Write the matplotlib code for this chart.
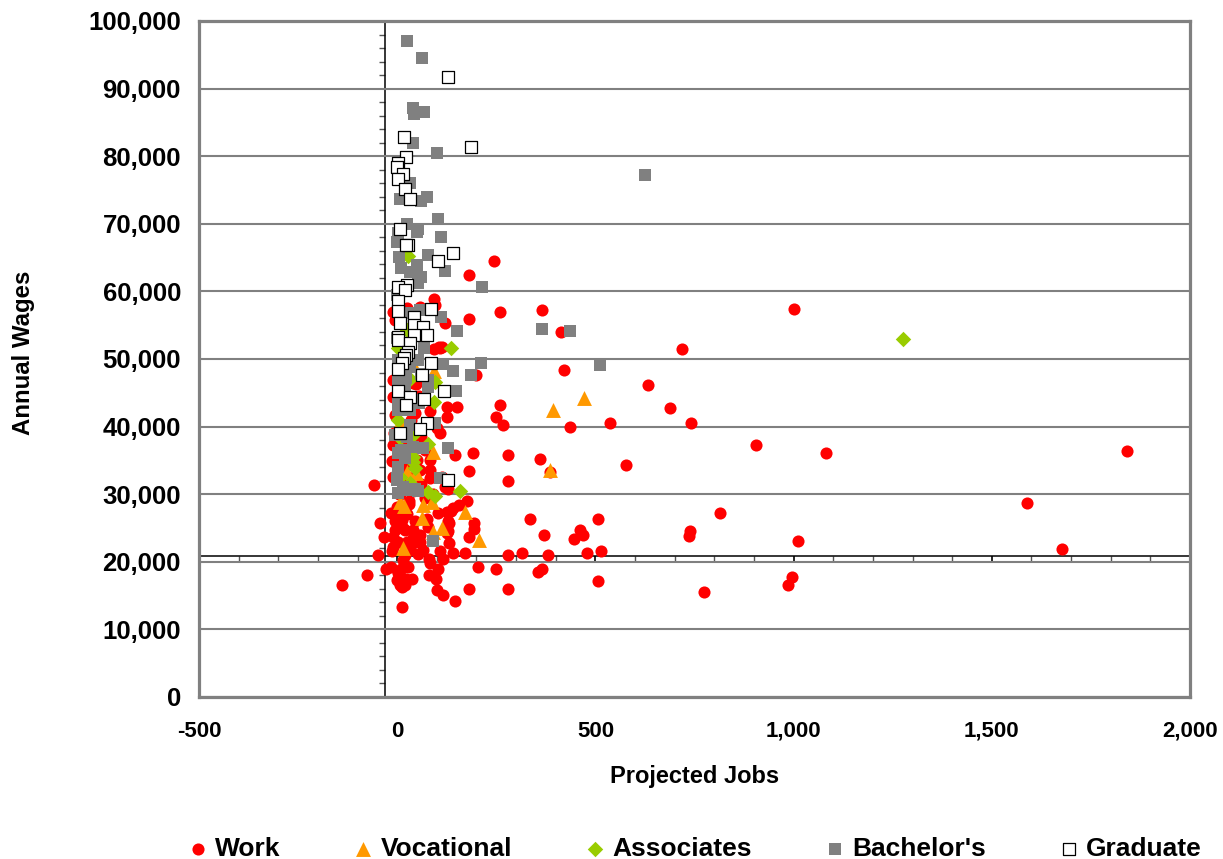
import matplotlib
matplotlib.use("Agg")
import matplotlib.pyplot as plt
from matplotlib.ticker import FuncFormatter, MultipleLocator

plt.rcParams["font.family"] = ["Liberation Sans", "DejaVu Sans"]
plt.rcParams["font.weight"] = "bold"

# values: (projected jobs, annual wages) per series
work_x = [1842, 1590, 1676, 1081, 1010, 1000, 995, 985, 905, 814, 718, 688, 633, 740, 738, 735, 775,
          537, 577, 507, 515, 507, 478, 462, 468, 447, 435, 420, 412, 365, 360, 385, 335, 370, 380,
          365, 355, 315, 280, 280, 250, 280, 280, 260, 250, 267, 260, 245, 180, 180, 200, 190, 180,
          175, 195, 195, 180, 205, 170, 180, 145, 140, 128, 130, 127, 135, 155, 150, 125, 125, 145,
          120, 95, 105, 92,
          -58, -138, -76, -48, -43, -33, -28, -15, 13, 80, 98, 100, 115, 103, 83, 115, 108, 80,
          130, 125, 78, 75, 103, 125, 140,
          13, 20, 8, 0, 3, 28, 38, 23, -13, 15, 53, 33, -5, -10, -15, 0, 13, 20, 40, 40, 58, 25, 3,
          -10, 58, 65, 3, 15, 25, 8, 30, 45, 35, 10, 20, 55, -5, 5, 30,
          93, 58, 25, -10, -5, 108, 112, -10, 48, 40, -10, -5, 83, 108, 100, -10, 50, 83, 83, 83,
          113, -13, -10, 15, 58, 50, 28, 20, 120, 128, 8, 20, 40, 60, 70, 90, 30, 5, 15, 45, 60, -8,
          10, 25, 35, 55, 70]
work_y = [36400, 28700, 21900, 36100, 23100, 57400, 17700, 16600, 37300, 27200, 51500, 42700, 46200, 40600, 24500, 23800, 15500,
          40500, 34300, 26300, 21600, 17200, 21300, 24700, 24000, 23400, 40000, 48300, 54000, 57200, 35200, 33300, 26300, 24000, 21000,
          18900, 18500, 21300, 21000, 16000, 18900, 35800, 31900, 43200, 41400, 40300, 56900, 64500, 62400, 55900, 47700, 36100, 33400,
          29000, 25700, 24800, 23700, 19200, 21300, 16000, 14200, 21300, 24500, 22800, 26000, 27500, 28400, 42900, 42900, 41400, 35800,
          55300, 58000, 51800, 51500,
          31400, 16600, 18100, 21000, 25700, 23700, 18900, 19200, 13300, 18100, 17500, 15800, 15100, 18900, 19800, 20400, 21600, 20400,
          25700, 24300, 25100, 26300, 27200, 27400, 28000,
          16300, 16600, 16500, 17300, 18300, 19200, 17500, 17500, 21600, 20300, 21100, 21700, 24700, 23700, 27200, 28100, 26200, 24700, 24700, 23500, 22900, 22900, 22900,
          22200, 24000, 21700, 27200, 25000, 27000, 25400, 29000, 26000, 22500, 19000, 21000, 23000, 26000, 30000, 28500,
          58900, 57700, 57500, 56900, 55700, 51700, 51800, 46900, 46300, 46400, 44400, 41700, 42300, 39000, 39800, 37300, 38300, 33600, 35000, 32400,
          32500, 34900, 32500, 36100, 33600, 35000, 32500, 34000, 31000, 30800, 30000, 31000, 30500, 31500, 29500, 30000, 39000, 43000, 47500, 42000, 38500, 39000,
          35000, 37500, 41000, 44500, 36500]

voc_x = [470, 393, 385, 170, 207, 15, 112, 18, 8, 65, 88, 63, 90, 35, 90, 48, 25, 93, 38, 8]
voc_y = [44200, 42400, 33600, 27300, 23200, 22000, 25000, 28200, 28800, 28400, 28800, 26500, 24400, 37100, 36200, 33100, 33300, 48200, 49500, 40700]

assoc_x = [1275, 136, 158, 95, 78, 95, 93, 78, 40, 40, 45, 40, 3, 25, 33, 3, 8, 8, 33, 28]
assoc_y = [52900, 51700, 30400, 29700, 30300, 46600, 43600, 37500, 38700, 34800, 33900, 35500, 51600, 54300, 47000, 41000, 38300, 32500, 31600, 65200]

bach_x = [25, 63, 40, 43, 68, 40, 100, 33, 75, 60, 8, 103, 25, 53, 50, 110, 3, 0, 5, 78, 120, 50, 10, 33, 60, 53, 214, 625,
          0, 28, 58, 110, 150, 365, 435, 512, 68, 0, 3, 53, 115, 212, 140, 187, 3, 23, 78, 148, 78, 33, 3, 33, 3, 95, 33, -5,
          128, 65, 3, 20, 3, 0, 0, 108, 3, 33, 53, 90, 15, 45, 45, 20, 60, 10, 25, 40, 55]
bach_y = [97000, 94600, 87100, 86300, 86600, 81900, 80500, 76000, 74000, 73300, 73600, 70700, 69900, 69300, 68800, 68100, 68600, 67300, 65100, 65400, 63000, 63900, 63400, 62900, 62100, 61200, 60600, 77200,
          59500, 56800, 57200, 56200, 54100, 54500, 54100, 49100, 51600, 53100, 49800, 49800, 49200, 49400, 48200, 47600, 46900, 47200, 45900, 45200, 46900, 48800, 43500, 42400, 42500, 40500, 40200, 38700,
          36800, 36800, 36100, 35300, 34000, 32400, 32100, 32400, 30200, 30600, 30500, 23100, 31000, 30800, 44000, 46000, 47800, 36500, 38500, 37000, 43500]

grad_x = [128, 18, 187, 23, 3, 0, 15, 3, 20, 33, 8, 28, 23, 140, 103, 25, 3, 20, 3, 3, 85, 43, 43, 8, 65, 75, 3, 3, 43, 33,
          28, 23, 18, 13, 85, 3, 63, 118, 3, 33, 68, 23, 75, 58, 8, 128]
grad_y = [91700, 82800, 81300, 79900, 79000, 78400, 77300, 76600, 75100, 73600, 69200, 66900, 66900, 65700, 64500, 60900, 60700, 60200, 58600, 57100, 57400, 56200, 55000, 55300, 54700, 53500, 53200, 52800, 53500, 52400,
          51000, 50600, 50100, 49400, 49400, 48500, 47600, 45200, 45200, 44400, 44100, 43200, 40600, 39600, 39000, 32100]

series_names = ["Work", "Vocational", "Associates", "Bachelor's", "Graduate"]

W, H = 1223, 859
fig = plt.figure(figsize=(W / 100, H / 100), dpi=100, facecolor="white")
rect = [199 / W, 1 - 697 / H, (1190 - 199) / W, (697 - 21) / H]

# crossing axes sit under the data, like the spreadsheet's axis lines
cross = fig.add_axes(rect, zorder=1)
cross.set_xlim(-500, 2000)
cross.set_ylim(0, 100000)
cross.patch.set_visible(False)
for side in ["top", "right"]:
    cross.spines[side].set_visible(False)
cross.spines["left"].set_position(("data", -30))
cross.spines["bottom"].set_position(("data", 20800))
for side in ["left", "bottom"]:
    cross.spines[side].set_linewidth(1.1)
cross.xaxis.set_major_locator(MultipleLocator(500))
cross.xaxis.set_minor_locator(MultipleLocator(100))
cross.yaxis.set_major_locator(MultipleLocator(10000))
cross.yaxis.set_minor_locator(MultipleLocator(2000))
cross.tick_params(which="major", length=5, width=1.2, labelleft=False, labelbottom=False)
cross.tick_params(which="minor", length=4, width=1.0, color="#555555")

ax = fig.add_axes(rect, zorder=3)
ax.patch.set_visible(False)
ax.set_xlim(-500, 2000)
ax.set_ylim(0, 100000)
ax.xaxis.set_major_locator(MultipleLocator(500))
ax.yaxis.set_major_locator(MultipleLocator(10000))
fmt = FuncFormatter(lambda v, _: f"{int(v):,}")
ax.xaxis.set_major_formatter(fmt)
ax.yaxis.set_major_formatter(fmt)
ax.tick_params(axis="x", length=0, labelsize=16, pad=17)
ax.tick_params(axis="y", length=0, labelsize=18.5, pad=13)
ax.grid(axis="y", color="#808080", lw=1.5)
ax.set_axisbelow(True)
for s in ax.spines.values():
    s.set_color("#808080")
    s.set_linewidth(2.3)

ax.scatter(work_x, work_y, s=76, marker="o", color="#FF0000", lw=0, label=series_names[0], clip_on=False)
ax.scatter(voc_x, voc_y, s=115, marker="^", color="#FF9900", lw=0, label=series_names[1])
ax.scatter(assoc_x, assoc_y, s=62, marker="D", color="#99CC00", lw=0, label=series_names[2])
ax.scatter(bach_x, bach_y, s=66, marker="s", color="#808080", lw=0, label=series_names[3])
ax.scatter(grad_x, grad_y, s=64, marker="s", facecolor="white", edgecolor="black", lw=0.9, label=series_names[4])

ax.set_xlabel("Projected Jobs", fontsize=17, fontweight="bold", labelpad=17)
ax.set_ylabel("Annual Wages", fontsize=17.3, fontweight="bold", labelpad=38, y=0.509)

leg = ax.legend(loc="lower center", bbox_to_anchor=(0.498, -0.262), ncol=5, frameon=False,
                fontsize=19, markerscale=1.0, handletextpad=0.1, columnspacing=2.6,
                handlelength=1.1, borderpad=0)

fig.savefig("out.png", dpi=100)
